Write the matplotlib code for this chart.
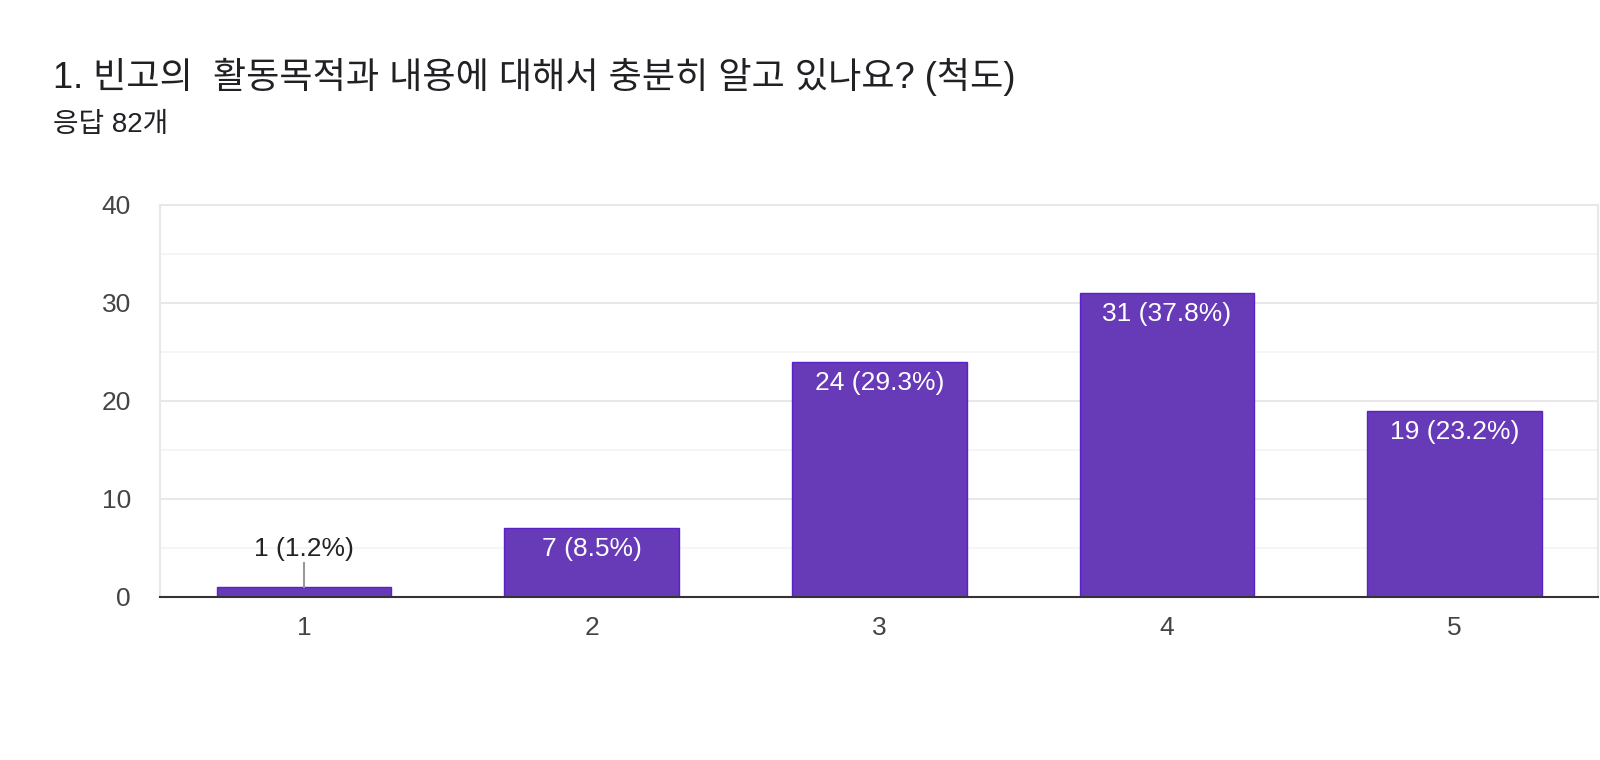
import matplotlib
matplotlib.use("Agg")
import matplotlib.pyplot as plt

plt.rcParams['font.family'] = ['Liberation Sans', 'Noto Sans CJK KR', 'DejaVu Sans']

title = "1. 빈고의  활동목적과 내용에 대해서 충분히 알고 있나요? (척도)"
subtitle = "응답 82개"
categories = [1, 2, 3, 4, 5]
counts = [1, 7, 24, 31, 19]
labels = ["1 (1.2%)", "7 (8.5%)", "24 (29.3%)", "31 (37.8%)", "19 (23.2%)"]
yticks = [0, 10, 20, 30, 40]

BAR = '#673ab7'
EDGE = '#5b21c8'
GRID = '#e8e8e8'

fig = plt.figure(figsize=(16, 7.6), dpi=100)
ax = fig.add_axes([0.1, 0.2145, 0.899, 0.516])

bars = ax.bar(categories, counts, width=0.607, color=BAR, edgecolor=EDGE, linewidth=1, zorder=3)

ax.set_xlim(0.5, 5.5)
ax.set_ylim(0, 40)
ax.set_yticks(yticks)
ax.set_yticks([5, 15, 25, 35], minor=True)
ax.set_xticks(categories)
ax.tick_params(axis='both', which='both', length=0, labelsize=19, colors='#444444')
ax.tick_params(axis='y', pad=21)
ax.tick_params(axis='x', pad=14)
ax.grid(axis='y', which='major', color=GRID, linewidth=1.5, zorder=0)
ax.grid(axis='y', which='minor', color='#f3f3f3', linewidth=1.2, zorder=0)

for side in ['top', 'right', 'left']:
    ax.spines[side].set_color(GRID)
    ax.spines[side].set_linewidth(1.5)
ax.spines['bottom'].set_color('#333333')
ax.spines['bottom'].set_linewidth(1.5)
ax.spines['bottom'].set_zorder(4)

for x, v, lab in zip(categories, counts, labels):
    if v < 3:
        # small bar: label sits above with a leader line
        ax.plot([x, x], [v, v + 2.5], color='#999999', linewidth=1.5, zorder=4)
        ax.text(x, v + 2.7, lab, ha='center', va='bottom', fontsize=19, color='#222222')
    else:
        ax.annotate(lab, xy=(x, v), xytext=(0, -6.5), textcoords='offset points',
                    ha='center', va='top', fontsize=19, color='white', zorder=5)

fig.text(53 / 1600, 1 - 77 / 760, title, fontsize=26, color='#202124', va='center', ha='left')
fig.text(53 / 1600, 1 - 125 / 760, subtitle, fontsize=20, color='#202124', va='center', ha='left')

fig.savefig('out.png', dpi=100, facecolor='white')
